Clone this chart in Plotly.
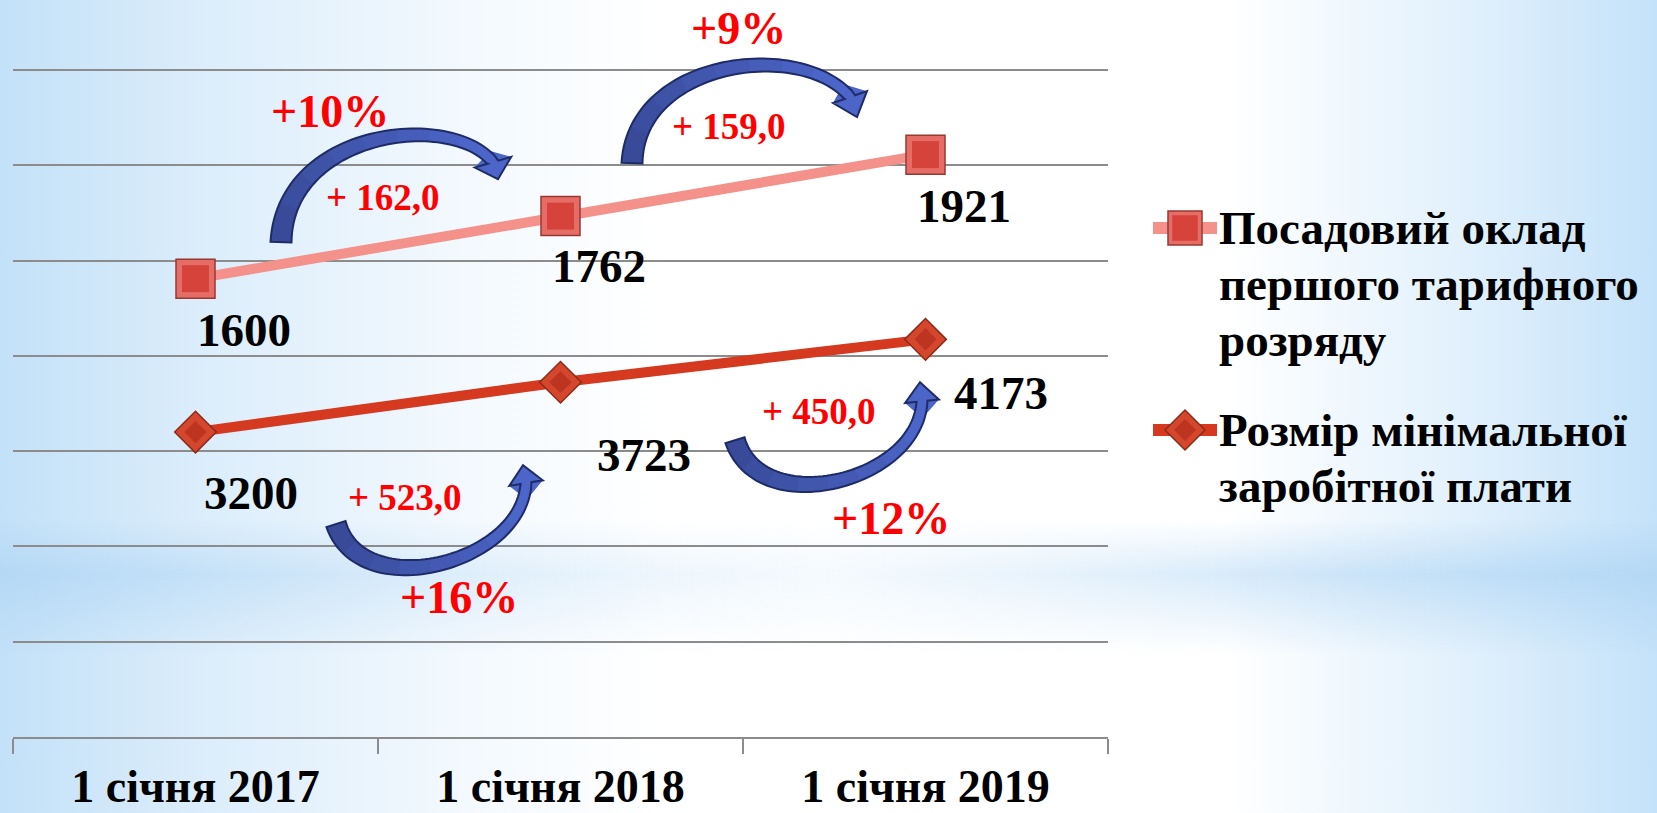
import base64
import plotly.graph_objects as go

# ---------------- data ----------------
categories = ["1 січня 2017", "1 січня 2018", "1 січня 2019"]
salary_grade1 = [1600, 1762, 1921]          # Посадовий оклад першого тарифного розряду
min_wage = [3200, 3723, 4173]               # Розмір мінімальної заробітної плати
legend_lines_1 = ["Посадовий оклад", "першого тарифного", "розряду"]
legend_lines_2 = ["Розмір мінімальної", "заробітної плати"]

# ---------------- geometry / style ----------------
FIG_W, FIG_H = 1657, 813
L, T, R, B = 13, 67, 549, 76
PW, PH = FIG_W - L - R, FIG_H - T - B
GRID_TOP_PX = 70                                  # pixel row of the top gridline (7000)
_u1 = 7000 / (FIG_H - B - GRID_TOP_PX)            # units per px, primary axis
Y1_RANGE = [0, 7000 + (GRID_TOP_PX - T) * _u1]
_u2 = (2140 - 414) / (FIG_H - B - GRID_TOP_PX)    # units per px, secondary axis
Y2_RANGE = [414, 2140 + (GRID_TOP_PX - T) * _u2]

C_UP_LINE = "#F4918A"
C_LO_LINE = "#D5391F"
ARROW_C0 = (0x38, 0x4A, 0x98)   # tail colour
ARROW_C1 = (0x4C, 0x65, 0xC8)   # head colour
C_ARROW_EDGE = "#1E2B66"
FONT = "Liberation Serif, DejaVu Serif, serif"


def px_x(i):
    return L + (i + 0.5) / len(categories) * PW


def px_y(v, rng):
    return T + PH * (1 - (v - rng[0]) / (rng[1] - rng[0]))


def to_paper(px, py):
    return (px - L) / PW, (T + PH - py) / PH


# ---------------- background (svg gradient image) ----------------
svg = f"""<svg xmlns="http://www.w3.org/2000/svg" width="{FIG_W}" height="{FIG_H}" viewBox="0 0 {FIG_W} {FIG_H}" preserveAspectRatio="none">
<defs>
<linearGradient id="h" x1="0" y1="0" x2="1" y2="0">
<stop offset="0" stop-color="#c3e1f8"/>
<stop offset="0.12" stop-color="#dbedfb"/>
<stop offset="0.28" stop-color="#f3f9fe"/>
<stop offset="0.40" stop-color="#ffffff"/>
<stop offset="0.74" stop-color="#ffffff"/>
<stop offset="0.89" stop-color="#e0f0fc"/>
<stop offset="1" stop-color="#c4e2f9"/>
</linearGradient>
<linearGradient id="bh" x1="0" y1="0" x2="1" y2="0">
<stop offset="0" stop-color="#b3d7f5" stop-opacity="0.9"/>
<stop offset="0.25" stop-color="#c3e0f7" stop-opacity="0.5"/>
<stop offset="0.5" stop-color="#d3e9fa" stop-opacity="0.25"/>
<stop offset="0.75" stop-color="#bcdcf6" stop-opacity="0.6"/>
<stop offset="1" stop-color="#b3d7f5" stop-opacity="0.9"/>
</linearGradient>
<linearGradient id="bv" x1="0" y1="0" x2="0" y2="1">
<stop offset="0" stop-color="#ffffff" stop-opacity="0"/>
<stop offset="0.4" stop-color="#ffffff" stop-opacity="1"/>
<stop offset="1" stop-color="#ffffff" stop-opacity="0"/>
</linearGradient>
<mask id="m"><rect x="0" y="520" width="{FIG_W}" height="135" fill="url(#bv)"/></mask>
</defs>
<rect width="{FIG_W}" height="{FIG_H}" fill="url(#h)"/>
<rect x="0" y="520" width="{FIG_W}" height="135" fill="url(#bh)" mask="url(#m)"/>
</svg>"""
bg_uri = "data:image/svg+xml;base64," + base64.b64encode(svg.encode("utf-8")).decode("ascii")

# ---------------- traces ----------------
fig = go.Figure()
fig.add_trace(go.Scatter(
    x=categories, y=salary_grade1, yaxis="y2", mode="lines+markers",
    name=" ".join(legend_lines_1), showlegend=False,
    line=dict(color=C_UP_LINE, width=10),
    marker=dict(symbol="square", size=39, color="#E56D66",
                line=dict(color="#983833", width=1.5)),
))
fig.add_trace(go.Scatter(
    x=categories, y=salary_grade1, yaxis="y2", mode="markers", showlegend=False,
    hoverinfo="skip", marker=dict(symbol="square", size=27, color="#D6433B"),
))
fig.add_trace(go.Scatter(
    x=categories, y=min_wage, yaxis="y", mode="lines+markers",
    name=" ".join(legend_lines_2), showlegend=False,
    line=dict(color=C_LO_LINE, width=10),
    marker=dict(symbol="diamond", size=32, color="#D4472C",
                line=dict(color="#8E2A18", width=1.5)),
))
fig.add_trace(go.Scatter(
    x=categories, y=min_wage, yaxis="y", mode="markers", showlegend=False,
    hoverinfo="skip", marker=dict(symbol="diamond", size=17, color="#BD3420"),
))

# ---------------- annotations: value labels ----------------
annotations = []
up_label_shift = [(48, 51), (38, 50), (38, 51)]
lo_label_shift = [(55, 61), (83, 73), (75, 54)]
for i, v in enumerate(salary_grade1):
    annotations.append(dict(x=categories[i], y=v, xref="x", yref="y2", text=str(v),
                            showarrow=False, xanchor="center", yanchor="middle",
                            xshift=up_label_shift[i][0], yshift=-up_label_shift[i][1],
                            font=dict(family=FONT, size=47, color="black", weight="bold")))
for i, v in enumerate(min_wage):
    annotations.append(dict(x=categories[i], y=v, xref="x", yref="y", text=str(v),
                            showarrow=False, xanchor="center", yanchor="middle",
                            xshift=lo_label_shift[i][0], yshift=-lo_label_shift[i][1],
                            font=dict(family=FONT, size=47, color="black", weight="bold")))


def growth_texts(vals):
    out = []
    for a, b in zip(vals[:-1], vals[1:]):
        pct = "+" + str(round((b - a) / a * 100)) + "%"
        amt = "+ " + f"{b - a:.1f}".replace(".", ",")
        out.append((pct, amt))
    return out


# offsets (px) of percent / amount labels from the starting point of each step
up_pct_off = [(134, -167), (178, -188)]
up_amt_off = [(187, -81), (168, -90)]
lo_pct_off = [(263, 165), (330, 136)]
lo_amt_off = [(209, 65), (258, 29)]

for k, (pct, amt) in enumerate(growth_texts(salary_grade1)):
    bx, by = px_x(k), px_y(salary_grade1[k], Y2_RANGE)
    for (dx, dy), txt, size in ((up_pct_off[k], pct, 46), (up_amt_off[k], amt, 37)):
        xp, yp = to_paper(bx + dx, by + dy)
        annotations.append(dict(x=xp, y=yp, xref="paper", yref="paper", text=txt, showarrow=False,
                                xanchor="center", yanchor="middle",
                                font=dict(family=FONT, size=size, color="#FF0000", weight="bold")))
for k, (pct, amt) in enumerate(growth_texts(min_wage)):
    bx, by = px_x(k), px_y(min_wage[k], Y1_RANGE)
    for (dx, dy), txt, size in ((lo_pct_off[k], pct, 46), (lo_amt_off[k], amt, 37)):
        xp, yp = to_paper(bx + dx, by + dy)
        annotations.append(dict(x=xp, y=yp, xref="paper", yref="paper", text=txt, showarrow=False,
                                xanchor="center", yanchor="middle",
                                font=dict(family=FONT, size=size, color="#FF0000", weight="bold")))

# ---------------- curved arrows (shapes) ----------------


def bez(P, t):
    mt = 1 - t
    c = (mt ** 3, 3 * mt * mt * t, 3 * mt * t * t, t ** 3)
    return (sum(c[j] * P[j][0] for j in range(4)), sum(c[j] * P[j][1] for j in range(4)))


def bez_d(P, t):
    mt = 1 - t
    c = (-3 * mt * mt, 3 * mt * mt - 6 * mt * t, 6 * mt * t - 3 * t * t, 3 * t * t)
    return (sum(c[j] * P[j][0] for j in range(4)), sum(c[j] * P[j][1] for j in range(4)))


def path_of(pts):
    segs = []
    for j, (x, y) in enumerate(pts):
        xp, yp = to_paper(x, y)
        segs.append(("M" if j == 0 else "L") + f"{xp:.5f},{yp:.5f}")
    return " ".join(segs) + " Z"


def arrow_shapes(tail, p1, p2, neck, tip, w0, w1, hw, n=60, nseg=8):
    P = [tail, (tail[0] + p1[0], tail[1] + p1[1]), (tail[0] + p2[0], tail[1] + p2[1]),
         (tail[0] + neck[0], tail[1] + neck[1])]
    tp = (tail[0] + tip[0], tail[1] + tip[1])
    hdx, hdy = tp[0] - P[3][0], tp[1] - P[3][1]
    hl = (hdx ** 2 + hdy ** 2) ** 0.5
    hn = (-hdy / hl, hdx / hl)
    sa, sb = [], []
    for s in range(n + 1):
        t = s / n
        x, y = bez(P, t)
        dx, dy = bez_d(P, t)
        d = (dx ** 2 + dy ** 2) ** 0.5
        nx, ny = -dy / d, dx / d
        if s == n:
            nx, ny = hn
        w = (w1 + (w0 - w1) * (1 - t) ** 1.6) / 2
        sa.append((x + nx * w, y + ny * w))
        sb.append((x - nx * w, y - ny * w))
    head = [(P[3][0] + hn[0] * hw / 2, P[3][1] + hn[1] * hw / 2), tp,
            (P[3][0] - hn[0] * hw / 2, P[3][1] - hn[1] * hw / 2)]
    out = []
    # colour gradient from tail to head: consecutive slightly overlapping pieces
    step = n // nseg
    for g in range(nseg):
        i0, i1 = g * step, min(n, (g + 1) * step + 1)
        f = g / (nseg - 1)
        col = "rgb({},{},{})".format(*[round(ARROW_C0[c] + (ARROW_C1[c] - ARROW_C0[c]) * f) for c in range(3)])
        pts = sa[i0:i1 + 1] + (head if g == nseg - 1 else []) + sb[i0:i1 + 1][::-1]
        out.append(dict(type="path", xref="paper", yref="paper", layer="above", path=path_of(pts),
                        fillcolor=col, line=dict(width=0)))
    out.append(dict(type="path", xref="paper", yref="paper", layer="above", path=path_of(sa + head + sb[::-1]),
                    fillcolor="rgba(0,0,0,0)", line=dict(color=C_ARROW_EDGE, width=2)))
    return out


shapes = []
up_arrows = [
    dict(tail=(85.5, -36.5), p1=(4, -112), p2=(170, -132), neck=(212, -80), tip=(217, -63), w0=21, w1=11, hw=38),
    dict(tail=(71.5, -53), p1=(4, -104), p2=(170, -124), neck=(218, -66), tip=(225, -46), w0=21, w1=11, hw=36),
]
lo_arrows = [
    dict(tail=(140.5, 92), p1=(25, 80), p2=(186, 40), neck=(190, -41), tip=(187, -59), w0=20, w1=11, hw=34),
    dict(tail=(174.5, 58), p1=(25, 80), p2=(183, 42), neck=(187, -39), tip=(185, -58), w0=20, w1=11, hw=34),
]
for k, a in enumerate(up_arrows):
    bx, by = px_x(k), px_y(salary_grade1[k], Y2_RANGE)
    tail = (bx + a["tail"][0], by + a["tail"][1])
    shapes += arrow_shapes(tail, a["p1"], a["p2"], a["neck"], a["tip"], a["w0"], a["w1"], a["hw"])
for k, a in enumerate(lo_arrows):
    bx, by = px_x(k), px_y(min_wage[k], Y1_RANGE)
    tail = (bx + a["tail"][0], by + a["tail"][1])
    shapes += arrow_shapes(tail, a["p1"], a["p2"], a["neck"], a["tip"], a["w0"], a["w1"], a["hw"])

# ---------------- legend (drawn as text + symbols) ----------------
LEG_SYM_X0, LEG_SYM_X1, LEG_TXT_X = 1153, 1217, 1217
entries = [
    (legend_lines_1, 228, C_UP_LINE, "square"),
    (legend_lines_2, 430, C_LO_LINE, "diamond"),
]
LINE_STEP = 56
for lines, y0, col, sym in entries:
    x0p, y0p = to_paper(LEG_SYM_X0, y0)
    x1p, _ = to_paper(LEG_SYM_X1, y0)
    shapes.append(dict(type="line", xref="paper", yref="paper", x0=x0p, x1=x1p, y0=y0p, y1=y0p,
                       line=dict(color=col, width=12)))
    cx = (LEG_SYM_X0 + LEG_SYM_X1) / 2
    if sym == "square":
        for half, fc, lc in ((17, "#E56D66", "#983833"), (12, "#D6433B", "#D6433B")):
            a0 = to_paper(cx - half, y0 + half)
            a1 = to_paper(cx + half, y0 - half)
            shapes.append(dict(type="rect", xref="paper", yref="paper", x0=a0[0], y0=a0[1], x1=a1[0], y1=a1[1],
                               fillcolor=fc, line=dict(color=lc, width=1.5)))
    else:
        for half, fc, lc in ((20, "#D4472C", "#8E2A18"), (10, "#BD3420", "#BD3420")):
            pts = [(cx - half, y0), (cx, y0 - half), (cx + half, y0), (cx, y0 + half)]
            shapes.append(dict(type="path", xref="paper", yref="paper", path=path_of(pts),
                               fillcolor=fc, line=dict(color=lc, width=1.5)))
    for j, txt in enumerate(lines):
        xp, yp = to_paper(LEG_TXT_X, y0 + j * LINE_STEP)
        annotations.append(dict(x=xp, y=yp, xref="paper", yref="paper", text=txt, showarrow=False,
                                xanchor="left", yanchor="middle",
                                font=dict(family=FONT, size=47, color="black", weight="bold")))

# ---------------- layout ----------------
fig.update_layout(
    width=FIG_W, height=FIG_H,
    margin=dict(l=L, r=R, t=T, b=B, pad=0, autoexpand=False),
    paper_bgcolor="white", plot_bgcolor="rgba(0,0,0,0)",
    showlegend=False,
    xaxis=dict(type="category", categoryorder="array", categoryarray=categories,
               range=[-0.5, len(categories) - 0.5], automargin=False,
               showline=True, linecolor="#8C8C8C", linewidth=2,
               ticks="outside", tickson="boundaries", ticklen=15, tickwidth=1.5, tickcolor="#8C8C8C",
               showgrid=False, ticklabelstandoff=8,
               tickfont=dict(family=FONT, size=46, color="black", weight="bold")),
    yaxis=dict(range=Y1_RANGE, dtick=1000, tick0=0, showgrid=True, gridcolor="#8C8C8C", gridwidth=2,
               showticklabels=False, zeroline=False, showline=False, ticks="", automargin=False),
    yaxis2=dict(range=Y2_RANGE, overlaying="y", side="right", showgrid=False, showticklabels=False,
                zeroline=False, showline=False, ticks="", automargin=False),
    images=[dict(source=bg_uri, xref="paper", yref="paper", x=-L / PW, y=1 + T / PH,
                 sizex=FIG_W / PW, sizey=FIG_H / PH, xanchor="left", yanchor="top",
                 sizing="stretch", layer="below")],
    annotations=annotations,
    shapes=shapes,
)

fig.write_html(
    "out.html",
    config={"displayModeBar": False},
    post_script="document.body.style.margin='0';document.body.style.overflow='hidden';"
                "document.documentElement.style.overflow='hidden';",
)
